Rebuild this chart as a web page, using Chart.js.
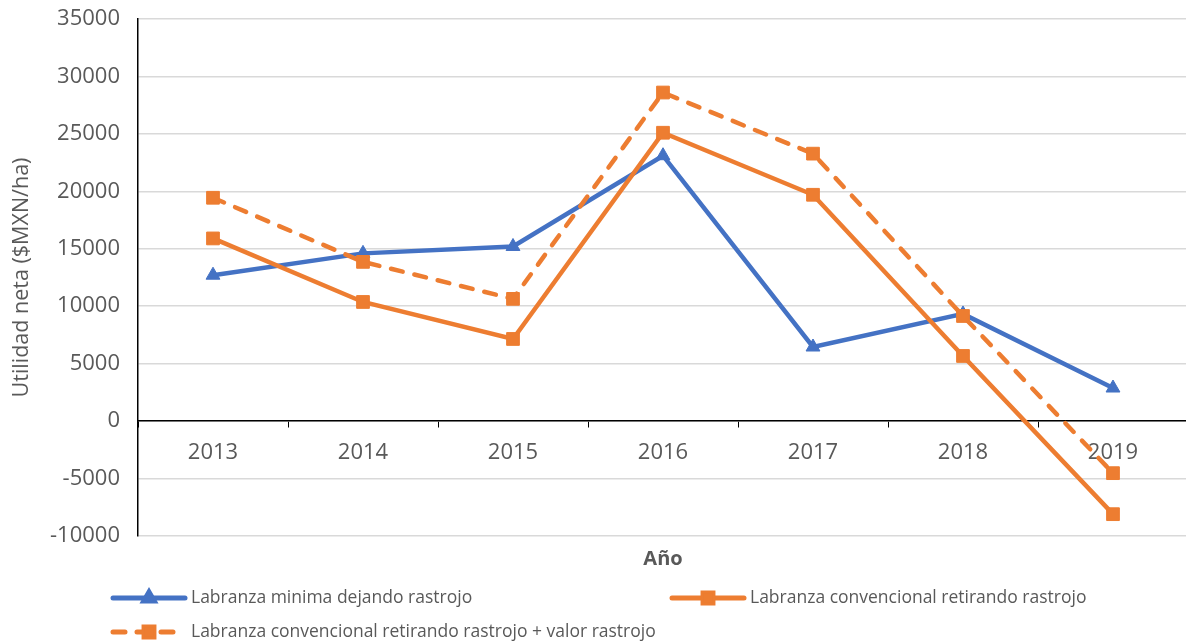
<!DOCTYPE html>
<html>
<head>
<meta charset="utf-8">
<script src="https://cdn.jsdelivr.net/npm/chart.js@4/dist/chart.umd.min.js"></script>
<style>
  html, body { margin: 0; padding: 0; background: #ffffff; overflow: hidden; }
  #wrap { width: 1198px; height: 642px; position: relative; }
</style>
</head>
<body>
<div id="wrap"><canvas id="utilidadChart"></canvas></div>
<script>
const years = ["2013", "2014", "2015", "2016", "2017", "2018", "2019"];
const minimaDejando = [12700, 14600, 15200, 23100, 6450, 9330, 2880];
const convencionalRetirando = [15900, 10370, 7150, 25100, 19700, 5670, -8100];
const convencionalMasValor = [19440, 13860, 10640, 28600, 23280, 9150, -4530];

const seriesNames = [
  "Labranza minima dejando rastrojo",
  "Labranza convencional retirando rastrojo",
  "Labranza convencional retirando rastrojo + valor rastrojo",
];

const blue = "#4472C4";
const orange = "#ED7D31";
const grey = "#595959";
const fontFamily = "'Open Sans', sans-serif";

Chart.defaults.color = grey;
Chart.defaults.font.family = fontFamily;

// legend drawn by hand, two items on the first row, one on the second
const legendSpots = [
  { x: 113, y: 598 },
  { x: 672, y: 598 },
  { x: 113, y: 632 },
];

const bottomLegend = {
  id: "bottomLegend",
  afterDraw(chart) {
    const ctx = chart.ctx;
    chart.data.datasets.forEach((ds, i) => {
      const spot = legendSpots[i];
      ctx.save();
      ctx.strokeStyle = ds.borderColor;
      ctx.lineWidth = 5;
      ctx.lineCap = "round";
      ctx.setLineDash(ds.borderDash || []);
      ctx.beginPath();
      ctx.moveTo(spot.x, spot.y);
      ctx.lineTo(spot.x + 72, spot.y);
      ctx.stroke();
      ctx.setLineDash([]);
      Chart.helpers.drawPoint(ctx, {
        pointStyle: ds.pointStyle,
        radius: ds.pointStyle === "triangle" ? 6 : 7,
        rotation: 0,
        borderWidth: 1,
      }, spot.x + 36, spot.y);
      ctx.fillStyle = ds.borderColor;
      ctx.fill();
      ctx.fillStyle = grey;
      ctx.font = "17.5px " + fontFamily;
      ctx.textBaseline = "middle";
      ctx.fillText(ds.label, spot.x + 78, spot.y);
      ctx.restore();
    });
  }
};

const ctx = document.getElementById("utilidadChart").getContext("2d");

const chart = new Chart(ctx, {
  type: "line",
  data: {
    labels: years,
    datasets: [
      {
        label: seriesNames[0],
        data: minimaDejando,
        borderColor: blue,
        backgroundColor: blue,
        borderWidth: 4.5,
        pointStyle: "triangle",
        pointRadius: 8,
        pointHoverRadius: 8,
        pointBorderWidth: 1,
        order: 3,
      },
      {
        label: seriesNames[1],
        data: convencionalRetirando,
        borderColor: orange,
        backgroundColor: orange,
        borderWidth: 4.5,
        pointStyle: "rect",
        pointRadius: 9,
        pointHoverRadius: 9,
        pointBorderWidth: 1,
        order: 2,
      },
      {
        label: seriesNames[2],
        data: convencionalMasValor,
        borderColor: orange,
        backgroundColor: orange,
        borderWidth: 4.5,
        borderDash: [12, 12],
        borderCapStyle: "round",
        pointStyle: "rect",
        pointRadius: 9,
        pointHoverRadius: 9,
        pointBorderWidth: 1,
        order: 1,
      },
    ]
  },
  options: {
    responsive: true,
    maintainAspectRatio: false,
    animation: false,
    layout: {
      padding: { top: 0, right: 0, bottom: 67, left: 0 },
    },
    plugins: {
      legend: { display: false },
      tooltip: { enabled: false },
    },
    scales: {
      x: {
        type: "category",
        position: { y: 0 },
        offset: true,
        grid: {
          offset: true,
          drawOnChartArea: false,
          drawTicks: true,
          tickLength: 6,
          color: "#000000",
        },
        border: { color: "#000000", width: 1.5 },
        ticks: {
          padding: 12,
          font: { size: 22 },
          color: grey,
        },
        afterFit(scale) { scale.paddingLeft = 0; scale.paddingRight = 0; },
      },
      x2: {
        type: "category",
        labels: years,
        position: "bottom",
        offset: true,
        grid: { display: false },
        border: { display: false },
        ticks: { display: false },
        title: {
          display: true,
          text: "Año",
          font: { size: 20, weight: "bold" },
          color: grey,
        },
        afterFit(scale) { scale.height = 39; scale.paddingLeft = 0; scale.paddingRight = 0; },
      },
      y: {
        min: -10000,
        max: 35000,
        ticks: {
          stepSize: 5000,
          padding: 18,
          font: { size: 22 },
          color: grey,
          callback: (value) => String(value),
        },
        grid: {
          color: "#D9D9D9",
          lineWidth: 1.5,
          drawTicks: false,
        },
        border: { color: "#000000", width: 1.5 },
        title: {
          display: true,
          text: "Utilidad neta ($MXN/ha)",
          font: { size: 21.5 },
          color: grey,
          padding: { top: 9, bottom: 0 },
        },
        afterFit(scale) { scale.width = 138; scale.paddingTop = 19; },
      },
    }
  },
  plugins: [bottomLegend],
});
</script>
</body>
</html>
